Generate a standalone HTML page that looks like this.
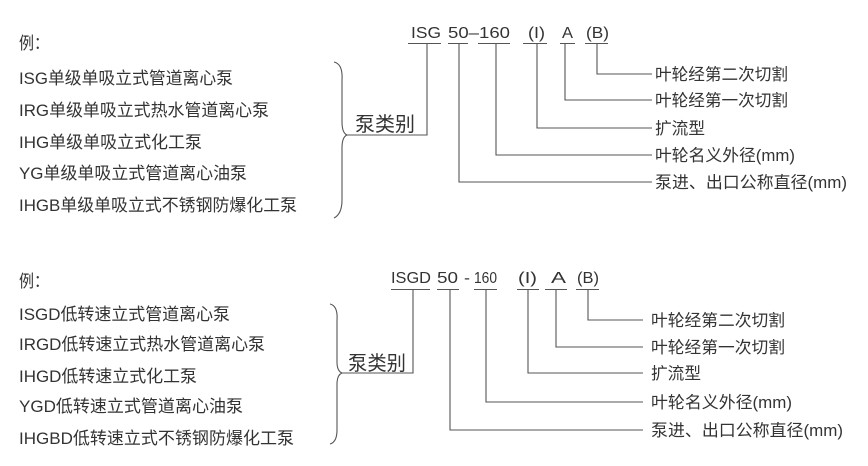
<!DOCTYPE html>
<html><head><meta charset="utf-8"><style>
html,body{margin:0;padding:0;background:#fff;}
svg{display:block;}
text{font-family:"Liberation Sans","Noto Sans CJK SC",sans-serif;fill:#333;}
</style></head><body>
<svg width="868" height="466" viewBox="0 0 868 466" xmlns="http://www.w3.org/2000/svg">
<g font-size="17">
<!-- TOP -->
<text x="19" y="49" textLength="30" lengthAdjust="spacingAndGlyphs">例：</text>
<text x="19" y="84" textLength="214" lengthAdjust="spacingAndGlyphs">ISG单级单吸立式管道离心泵</text>
<text x="19" y="116" textLength="250" lengthAdjust="spacingAndGlyphs">IRG单级单吸立式热水管道离心泵</text>
<text x="19" y="148" textLength="183" lengthAdjust="spacingAndGlyphs">IHG单级单吸立式化工泵</text>
<text x="19" y="179" textLength="228" lengthAdjust="spacingAndGlyphs">YG单级单吸立式管道离心油泵</text>
<text x="19" y="211" textLength="278" lengthAdjust="spacingAndGlyphs">IHGB单级单吸立式不锈钢防爆化工泵</text>
<text x="355" y="131" font-size="20" textLength="60" lengthAdjust="spacingAndGlyphs">泵类别</text>
<g font-size="16">
<text x="411" y="38" textLength="30" lengthAdjust="spacingAndGlyphs">ISG</text>
<text x="448" y="38" textLength="62" lengthAdjust="spacingAndGlyphs">50–160</text>
<text x="528" y="38" textLength="17" lengthAdjust="spacingAndGlyphs">(I)</text>
<text x="562" y="38" textLength="11" lengthAdjust="spacingAndGlyphs">A</text>
<text x="586" y="38" textLength="23" lengthAdjust="spacingAndGlyphs">(B)</text>
</g>
<g font-size="16.5">
<text x="655" y="80" textLength="133" lengthAdjust="spacingAndGlyphs">叶轮经第二次切割</text>
<text x="655" y="106" textLength="133" lengthAdjust="spacingAndGlyphs">叶轮经第一次切割</text>
<text x="655" y="134" textLength="50" lengthAdjust="spacingAndGlyphs">扩流型</text>
<text x="655" y="161" textLength="140" lengthAdjust="spacingAndGlyphs">叶轮名义外径(mm)</text>
<text x="655" y="188" textLength="192" lengthAdjust="spacingAndGlyphs">泵进、出口公称直径(mm)</text>
</g>
<!-- BOTTOM -->
<text x="19" y="287" textLength="30" lengthAdjust="spacingAndGlyphs">例：</text>
<text x="19" y="320" textLength="211" lengthAdjust="spacingAndGlyphs">ISGD低转速立式管道离心泵</text>
<text x="19" y="350" textLength="246" lengthAdjust="spacingAndGlyphs">IRGD低转速立式热水管道离心泵</text>
<text x="19" y="382" textLength="178" lengthAdjust="spacingAndGlyphs">IHGD低转速立式化工泵</text>
<text x="19" y="412" textLength="224" lengthAdjust="spacingAndGlyphs">YGD低转速立式管道离心油泵</text>
<text x="19" y="444" textLength="275" lengthAdjust="spacingAndGlyphs">IHGBD低转速立式不锈钢防爆化工泵</text>
<text x="348" y="370" font-size="20" textLength="58" lengthAdjust="spacingAndGlyphs">泵类别</text>
<g font-size="16">
<text x="391" y="283" textLength="40" lengthAdjust="spacingAndGlyphs">ISGD</text>
<text x="437" y="283" textLength="21" lengthAdjust="spacingAndGlyphs">50</text>
<text x="464" y="283" textLength="6" lengthAdjust="spacingAndGlyphs">-</text>
<text x="474" y="283" textLength="23" lengthAdjust="spacingAndGlyphs">160</text>
<text x="518" y="283" textLength="19" lengthAdjust="spacingAndGlyphs">(I)</text>
<text x="551" y="283" textLength="15" lengthAdjust="spacingAndGlyphs">A</text>
<text x="577" y="283" textLength="22" lengthAdjust="spacingAndGlyphs">(B)</text>
</g>
<g font-size="16.5">
<text x="651" y="326" textLength="134" lengthAdjust="spacingAndGlyphs">叶轮经第二次切割</text>
<text x="651" y="353" textLength="134" lengthAdjust="spacingAndGlyphs">叶轮经第一次切割</text>
<text x="651" y="379" textLength="50" lengthAdjust="spacingAndGlyphs">扩流型</text>
<text x="651" y="408" textLength="141" lengthAdjust="spacingAndGlyphs">叶轮名义外径(mm)</text>
<text x="651" y="436" textLength="192" lengthAdjust="spacingAndGlyphs">泵进、出口公称直径(mm)</text>
</g>
</g>
<g stroke="#555" stroke-width="1.1" fill="none">
<path d="M408 43.5H441M448 43.5H468M478 43.5H510M523 43.5H547M560 43.5H575M585 43.5H608"/>
<path d="M334 62 Q343 64 342 80 L342 122 Q342 133 347 135 Q342 137 342 148 L342 200 Q342 214 334 218"/>
<path d="M347 135H427V43.5"/>
<path d="M459 43.5V182H652M496 43.5V155H652M537 43.5V128H652M565 43.5V100H652M597 43.5V74H652"/>
<path d="M391 289.5H430M437 289.5H459M474 289.5H497M517 289.5H539M545 289.5H567M576 289.5H599"/>
<path d="M330 304 Q338 306 337 320 L337 362 Q337 371 342 373 Q337 375 337 384 L337 430 Q337 442 330 444"/>
<path d="M342 373H413V289.5"/>
<path d="M450 289.5V430H643M486 289.5V402H643M528 289.5V373H643M556 289.5V347H643M588 289.5V320H643"/>
</g>
</svg>
</body></html>
